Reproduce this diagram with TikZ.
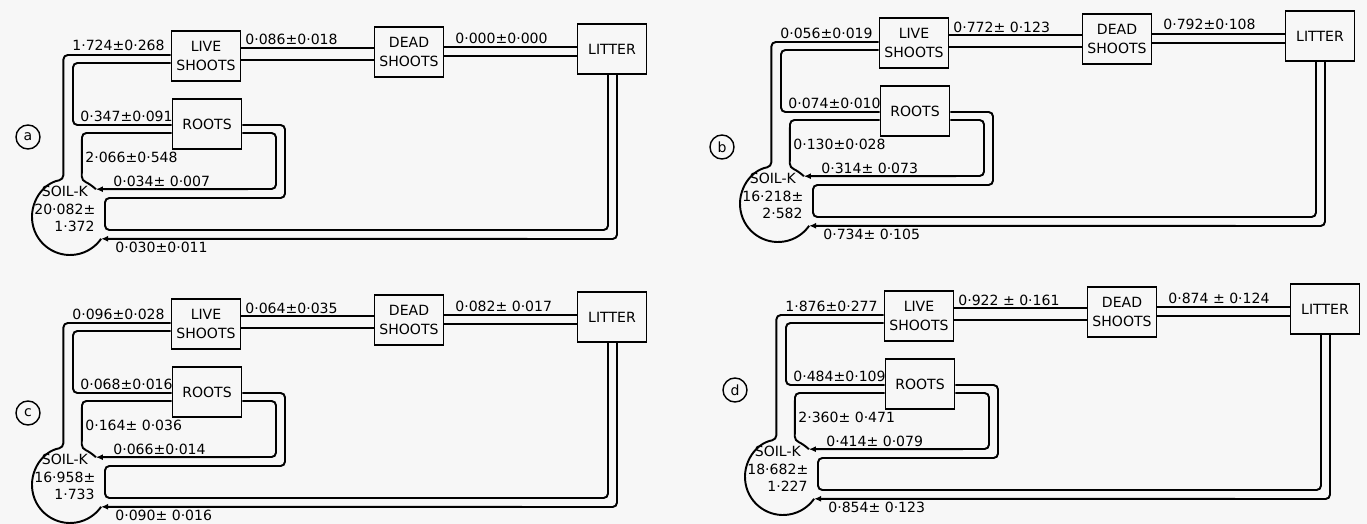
\documentclass[tikz,border=0pt]{standalone}
\usepackage{fontspec}
\setmainfont{DejaVu Sans}
\usetikzlibrary{calc,arrows.meta}

\newcommand{\kpanel}[9]{%
	\node[box] (live) at (206,-56) {LIVE\\SHOOTS};
	\node[box] (roots) at (207,-124) {ROOTS};
	\node[box] (dead) at (409,-52) {DEAD\\SHOOTS};
	\node[box] (litter) at (612,-49) {LITTER};
	\coordinate (soil) at (70,-217);
	\node[soiltext] (soilk) at (34,-186) {\hspace*{1.5mm}SOIL-K\\#1\\\hspace*{4mm}#2};

	\draw[wall] ($(live.west)+(0,1)$) -| ($(soil)+(100:38)$) arc[start angle=100,end angle=325,radius=38];
	\draw[wall] ($(live.west)+(0,-7)$) -- (73,-63) -- (73,-125) -- ($(roots.west)+(0,-1)$);
	\draw[wall] ($(roots.west)+(0,-9)$) -- (82,-133) -- ($(soil)+(72:38)$) arc[start angle=72,end angle=47,radius=38];
	\draw[wall,fluxtip] ($(roots.east)+(0,-9)$) -- (276,-133) -- (276,-189) -- ($(soil)+(47:38)$);
	\draw[wall] ($(roots.east)+(0,-1)$) -- (285,-125) -- (285,-198) -- (105,-198) -- (105,-230) -- (608,-230) -- ($(litter.south)+(-4,0)$);
	\draw[wall,fluxtip] ($(litter.south)+(5,0)$) -- (617,-239) -- ($(soil)+(-35:38)$);
	\draw[wall] ($(live.east)+(0,8)$) -- ($(dead.west)+(0,4)$);
	\draw[wall] ($(live.east)+(0,-4)$) -- ($(dead.west)+(0,-8)$);
	\draw[wall] ($(dead.east)+(0,5)$) -- ($(litter.west)+(0,2)$);
	\draw[wall] ($(dead.east)+(0,-4)$) -- ($(litter.west)+(0,-7)$);

	\node[flux] (f1) at (72,-51) {#3};
	\node[flux] (f2) at (245,-45) {#4};
	\node[flux] (f3) at (455,-43) {#5};
	\node[flux] (f4) at (80,-121) {#6};
	\node[flux] (f5) at (85,-162) {#7};
	\node[flux] (f6) at (113,-186) {#8};
	\node[flux] (f7) at (115,-252) {#9};
}

\begin{document}
\begin{tikzpicture}[x=0.02cm,y=0.02cm,
	box/.style={draw,line width=1.1pt,minimum width=1.38cm,minimum height=1cm,inner sep=0pt,align=center,font=\fontsize{8}{10.5}\selectfont},
	wall/.style={line width=1.1pt,rounded corners=2.5pt},
	fluxtip/.style={-{Latex[length=4pt,width=3.5pt]}},
	flux/.style={anchor=base west,inner sep=0pt,font=\fontsize{8}{9.6}\selectfont},
	soiltext/.style={anchor=north west,inner sep=0pt,align=left,font=\fontsize{8}{9.8}\selectfont},
	tag/.style={draw,circle,line width=0.8pt,minimum size=0.48cm,inner sep=0pt,font=\fontsize{8}{9.6}\selectfont}]
	\useasboundingbox (0,0) rectangle (1367,-524);
	\fill[black!3] (0,0) rectangle (1367,-524);

	\begin{scope}
		\node[tag] (taga) at (28,-137) {a};
		\kpanel{20·082±}{1·372}{1·724±0·268}{0·086±0·018}{0·000±0·000}{0·347±0·091}{2·066±0·548}{0·034± 0·007}{0·030±0·011}
	\end{scope}

	\begin{scope}[shift={(708,13)}]
		\node[tag] (tagb) at (14,-160) {b};
		\kpanel{16·218±}{2·582}{0·056±0·019}{0·772± 0·123}{0·792±0·108}{0·074±0·010}{0·130±0·028}{0·314± 0·073}{0·734± 0·105}
	\end{scope}

	\begin{scope}[shift={(0,-268)}]
		\node[tag] (tagc) at (28,-145) {c};
		\kpanel{16·958±}{1·733}{0·096±0·028}{0·064±0·035}{0·082± 0·017}{0·068±0·016}{0·164± 0·036}{0·066±0·014}{0·090± 0·016}
	\end{scope}

	\begin{scope}[shift={(713,-260)}]
		\node[tag] (tagd) at (22,-130) {d};
		\kpanel{18·682±}{1·227}{1·876±0·277}{0·922 ± 0·161}{0·874 ± 0·124}{0·484±0·109}{2·360± 0·471}{0·414± 0·079}{0·854± 0·123}
	\end{scope}
\end{tikzpicture}
\end{document}
